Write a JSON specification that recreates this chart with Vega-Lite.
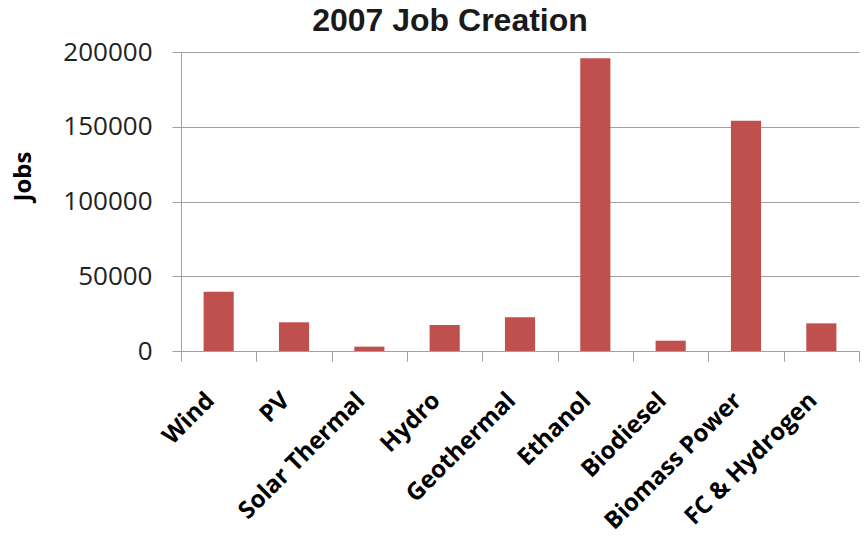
{
  "$schema": "https://vega.github.io/schema/vega-lite/v6.json",
  "width": 678,
  "height": 299,
  "autosize": {"type": "none"},
  "padding": {"left": 181, "top": 52, "right": 7, "bottom": 189},
  "background": "white",
  "title": {
    "text": "2007 Job Creation",
    "font": "Liberation Sans",
    "fontSize": 32,
    "fontWeight": "bold",
    "color": "#1a1a1a",
    "anchor": "middle",
    "frame": "group",
    "dx": -70,
    "offset": 1
  },
  "data": {
    "values": [
      {"source": "Wind", "jobs": 39700},
      {"source": "PV", "jobs": 19200},
      {"source": "Solar Thermal", "jobs": 2900},
      {"source": "Hydro", "jobs": 17400},
      {"source": "Geothermal", "jobs": 22500},
      {"source": "Ethanol", "jobs": 195800},
      {"source": "Biodiesel", "jobs": 6900},
      {"source": "Biomass Power", "jobs": 154000},
      {"source": "FC & Hydrogen", "jobs": 18500}
    ]
  },
  "mark": {"type": "bar", "color": "#C0504D", "width": {"band": 0.4}},
  "encoding": {
    "x": {
      "field": "source",
      "type": "nominal",
      "sort": null,
      "scale": {"paddingInner": 0, "paddingOuter": 0},
      "axis": {
        "title": null,
        "labelAngle": -45,
        "labelAlign": "right",
        "labelBaseline": "bottom",
        "labelFont": "Open Sans",
        "labelFontSize": 24,
        "labelFontWeight": "bold",
        "labelColor": "#000000",
        "labelPadding": 44,
        "labelDx": 10,
        "labelDy": 5,
        "tickBand": "extent",
        "tickSize": 10,
        "tickColor": "#a0a0a0",
        "domainColor": "#a0a0a0",
        "labelOverlap": false,
        "labelLimit": 400
      }
    },
    "y": {
      "field": "jobs",
      "type": "quantitative",
      "scale": {"domain": [0, 200000], "nice": false},
      "axis": {
        "values": [0, 50000, 100000, 150000, 200000],
        "format": "d",
        "title": "Jobs",
        "titleFont": "Open Sans",
        "titleFontSize": 24,
        "titleFontWeight": "bold",
        "titleColor": "#000000",
        "titleX": -158,
        "titleY": 124,
        "titleAngle": -90,
        "titleAlign": "center",
        "titleBaseline": "middle",
        "labelFont": "Open Sans",
        "labelFontSize": 26,
        "labelColor": "#222222",
        "labelPadding": 20,
        "tickSize": 9,
        "tickColor": "#a0a0a0",
        "domainColor": "#a0a0a0",
        "grid": true,
        "gridColor": "#a0a0a0",
        "gridWidth": 1
      }
    }
  },
  "config": {"view": {"stroke": null}}
}
